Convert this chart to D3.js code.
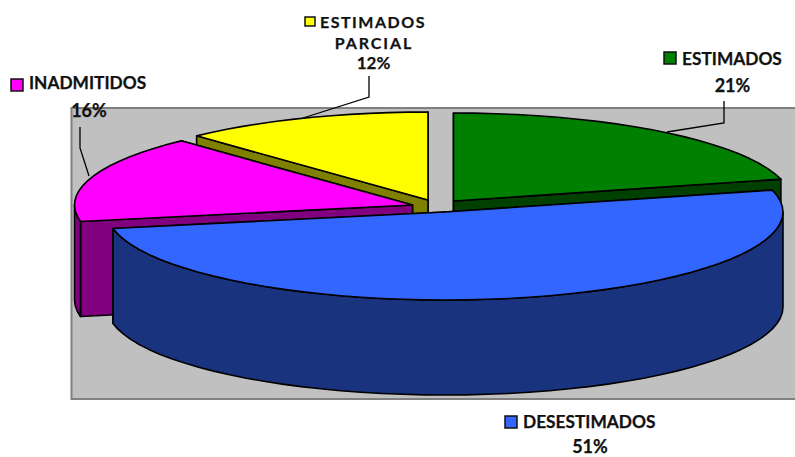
<!DOCTYPE html>
<html><head><meta charset="utf-8">
<script src="https://cdn.jsdelivr.net/npm/d3@7"></script>
<style>html,body{margin:0;padding:0;background:#fff}svg{display:block}</style></head>
<body><div id="c"></div>
<script>
const categories = ["ESTIMADOS","DESESTIMADOS","INADMITIDOS","ESTIMADOS PARCIAL"];
const values = [21,51,16,12];
const topColors = ["#008000","#3366FF","#FF00FF","#FFFF00"];
const sideColors = ["#004000","#19337F","#800080","#808000"];
const centers = [[453.5,201],[445,212],[412.5,205],[428,200]];
const drawOrder = [3,0,2,1];
const RX=338, RY=88, DEPTH=95, W=795, H=457;

const svg=d3.select("#c").append("svg").attr("width",W).attr("height",H)
  .style("font-family","Lato,sans-serif").style("font-weight",700).style("fill","#111");
svg.append("rect").attr("x",71.5).attr("y",108).attr("width",W+10-71.5).attr("height",291)
  .attr("fill","#C0C0C0").attr("stroke","#808080").attr("stroke-width",2);

const arcs=d3.pie().sort(null)(values);
const sx=d3.scaleLinear().domain([-1,1]).range([-RX,RX]);
const sy=d3.scaleLinear().domain([-1,1]).range([-RY,RY]);
const line=d3.line();
const pt=(c,a,dy=0)=>[c[0]+sx(Math.sin(a)),c[1]-sy(Math.cos(a))+dy];
function rim(c,a0,a1,dy=0){
  const n=Math.max(2,Math.ceil((a1-a0)/(Math.PI/50)));
  return d3.range(n+1).map(i=>pt(c,a0+(a1-a0)*i/n,dy));
}
function poly(points,fill){
  svg.append("path").attr("d",line(points)+"Z").attr("fill",fill)
    .attr("stroke","#000").attr("stroke-width",1.6).attr("stroke-linejoin","round");
}
drawOrder.forEach(i=>{
  const d=arcs[i],c=centers[i],s=sideColors[i];
  const a0=d.startAngle,a1=d.endAngle,down=[c[0],c[1]+DEPTH];
  // cut faces, the one lying further back first
  [a0,a1].sort((p,q)=>Math.cos(q)-Math.cos(p))
    .forEach(a=>poly([c,pt(c,a),pt(c,a,DEPTH),down],s));
  // outer wall: only the rim on the lower half of the ellipse
  const w0=Math.max(a0,Math.PI/2),w1=Math.min(a1,3*Math.PI/2);
  if(w1>w0) poly([...rim(c,w0,w1),...rim(c,w0,w1,DEPTH).reverse()],s);
  poly([c,...rim(c,a0,a1)],topColors[i]);
});

// leader lines
const leaders=[[[667,132],[724,123],[724,101]],[[303,118],[369,97],[369,76]],[[89,176],[80,148],[80,127]]];
leaders.forEach(l=>svg.append("path").attr("d",line(l)).attr("fill","none").attr("stroke","#000").attr("stroke-width",1.3));

// legend keys
const keys=[[664,52,0],[505,416,1],[11,79,2],[305,17,3]];
keys.forEach(k=>svg.append("rect").attr("x",k[0]).attr("y",k[1]).attr("width",k[2]==3?10:12).attr("height",k[2]==3?9:12)
  .attr("fill",topColors[k[2]]).attr("stroke","#111").attr("stroke-width",1.5));

// labels
const pct=v=>v+"%";
const labels=[
 {t:categories[0],x:682,y:65,s:17.3},{t:pct(values[0]),x:732.5,y:92,s:18,a:"middle"},
 {t:categories[1],x:523,y:428,s:17.3},{t:pct(values[1]),x:590,y:453,s:18,a:"middle"},
 {t:categories[2],x:29,y:89,s:17.3},{t:pct(values[2]),x:89,y:117,s:18,a:"middle"},
 {t:"ESTIMADOS",x:373,y:28,s:16,a:"middle",ls:1.5},{t:"PARCIAL",x:374,y:49,s:16,a:"middle",ls:1.9},
 {t:pct(values[3]),x:373.5,y:69,s:17,a:"middle"}
];
labels.forEach(l=>svg.append("text").attr("x",l.x).attr("y",l.y).attr("font-size",l.s)
  .attr("text-anchor",l.a||"start").attr("letter-spacing",l.ls||0)
  .style("stroke","#111").style("stroke-width",0.25).text(l.t));
</script></body></html>
